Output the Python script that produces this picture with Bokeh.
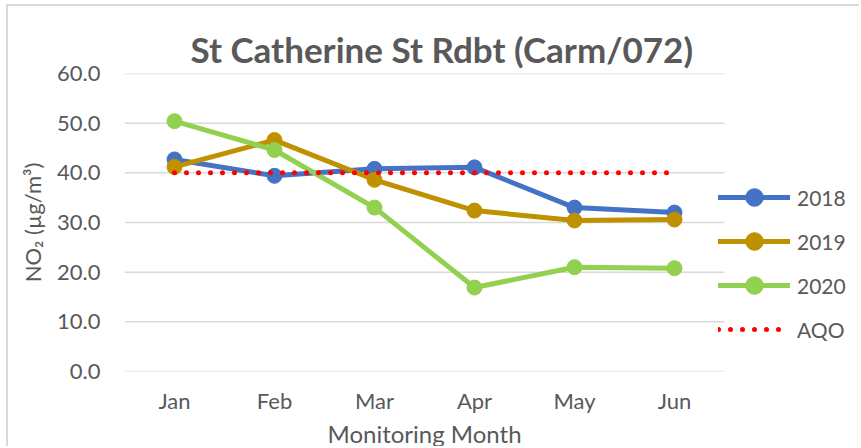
from bokeh.plotting import figure
from bokeh.models import Range1d, FixedTicker, NumeralTickFormatter, Legend, LegendItem, Title
from bokeh.embed import file_html
from bokeh.resources import INLINE

months = ["Jan", "Feb", "Mar", "Apr", "May", "Jun"]
s2018 = [42.7, 39.4, 40.8, 41.1, 33.0, 32.0]
s2019 = [41.2, 46.6, 38.6, 32.4, 30.4, 30.6]
s2020 = [50.4, 44.6, 33.0, 16.9, 21.0, 20.8]
aqo = [40, 40, 40, 40, 40, 40]
y_ticks = [0, 10, 20, 30, 40, 50, 60]

TXT = "#595959"
FONT = "Lato"
xs = list(range(len(months)))

p = figure(width=853, height=442, x_range=Range1d(-0.5, 6.87), y_range=Range1d(0, 60),
           output_backend="svg", toolbar_location=None,
           min_border_left=116, min_border_right=0, min_border_top=67, min_border_bottom=77)
p.styles = {"border-left": "2px solid #D9D9D9", "border-top": "2px solid #D9D9D9",
            "margin-left": "6px", "margin-top": "4px"}
p.outline_line_color = None

p.title.text = "St Catherine St Rdbt (Carm/072)"
p.title.text_font = FONT
p.title.text_font_size = "35px"
p.title.text_color = TXT
p.title.align = "left"
p.title.offset = 66
p.title.standoff = 8
p.title.text_font_style = "bold"

xtitle = Title(text="Monitoring Month", align="left", offset=203, standoff=0,
               text_font=FONT, text_font_size="24px", text_color=TXT, text_font_style="normal")
p.add_layout(xtitle, "below")

p.xgrid.grid_line_color = None
p.ygrid.grid_line_color = None
p.segment(x0=[xs[0] - 0.5] * len(y_ticks), x1=[xs[-1] + 0.5] * len(y_ticks), y0=y_ticks, y1=y_ticks,
          line_color="#D9D9D9", line_width=1.5)
p.yaxis.ticker = FixedTicker(ticks=y_ticks)
p.yaxis.formatter = NumeralTickFormatter(format="0.0")
p.xaxis.ticker = FixedTicker(ticks=xs)
p.xaxis.major_label_overrides = {i: m for i, m in zip(xs, months)}
for ax in (p.xaxis, p.yaxis):
    ax.axis_line_color = None
    ax.major_tick_line_color = None
    ax.minor_tick_line_color = None
    ax.major_tick_out = 0
    ax.major_tick_in = 0
    ax.minor_tick_out = 0
    ax.major_label_text_font = FONT
    ax.major_label_text_font_size = "22px"
    ax.major_label_text_color = TXT
    ax.axis_label_text_font = FONT
    ax.axis_label_text_font_size = "22px"
    ax.axis_label_text_color = TXT
    ax.axis_label_text_font_style = "normal"
p.yaxis.major_label_standoff = 24
p.xaxis.major_label_standoff = 15
p.yaxis.axis_label = "NO\u2082 (\u00b5g/m\u00b3)"
p.yaxis.axis_label_standoff = 8

items = []
for name, vals, col in [("2018", s2018, "#4472C4"), ("2019", s2019, "#BF9000"), ("2020", s2020, "#92D050")]:
    l = p.line(xs, vals, line_color=col, line_width=5, line_join="round", line_cap="round")
    c = p.scatter(xs, vals, size=15, fill_color=col, line_color=col)
    items.append(LegendItem(label=name, renderers=[l, c]))
la = p.line(xs, aqo, line_color="#FF0000", line_width=5, line_dash="0 12", line_cap="round")
items.append(LegendItem(label="AQO", renderers=[la]))

legend = Legend(items=items, location=(594, 20), orientation="vertical",
                glyph_width=72, glyph_height=44, label_height=44, spacing=0,
                label_standoff=7, padding=0, margin=0,
                label_text_font=FONT, label_text_font_size="21px", label_text_color=TXT,
                background_fill_alpha=0, border_line_color=None)
p.add_layout(legend, "center")

open("out.html", "w").write(file_html(p, INLINE))
